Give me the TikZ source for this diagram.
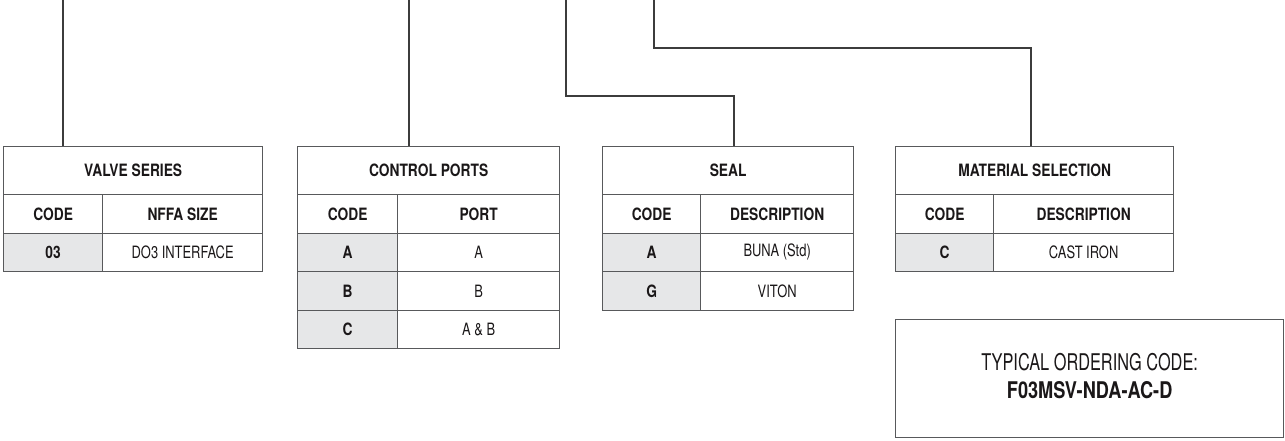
\documentclass[tikz,border=0pt]{standalone}
\usepackage{fontspec}
\setmainfont{TeX Gyre Heros}[UprightFeatures={FakeStretch=0.76},BoldFeatures={FakeStretch=0.81}]
\newfontfamily\ocfont{TeX Gyre Heros}[UprightFeatures={FakeStretch=0.71},BoldFeatures={FakeStretch=0.79}]
\definecolor{rule}{HTML}{58595B}
\definecolor{leader}{HTML}{3C3C3C}
\definecolor{codefill}{HTML}{E6E7E8}
\definecolor{ink}{HTML}{1A1718}
\begin{document}
\begin{tikzpicture}[x=1pt,y=-1pt,
  cellbase/.style={draw=rule,line width=1.3pt,anchor=north west,inner sep=0pt,
    minimum height=38.5pt,text=ink,font=\fontsize{17}{19}\selectfont},
  hdr/.style={cellbase,minimum height=48pt,font=\fontsize{17}{19}\selectfont\bfseries},
  colhdr/.style={cellbase,font=\fontsize{17}{19}\selectfont\bfseries},
  codecell/.style={cellbase,fill=codefill,font=\fontsize{17}{19}\selectfont\bfseries},
  valcell/.style={cellbase},
  leaderline/.style={draw=leader,line width=1.3pt}]
\useasboundingbox (0,0) rectangle (1285,440);

% VALVE SERIES table
\node[hdr,minimum width=259pt] (vs) at (3,146) {VALVE SERIES};
\node[colhdr,minimum width=99pt] (vsc) at (3,194) {CODE};
\node[colhdr,minimum width=160pt] (vsd) at (102,194) {NFFA SIZE};
\node[codecell,minimum width=99pt] (vs1c) at (3,232.5) {03};
\node[valcell,minimum width=160pt] (vs1d) at (102,232.5) {DO3 INTERFACE};

% CONTROL PORTS table
\node[hdr,minimum width=262pt] (cp) at (297,146) {CONTROL PORTS};
\node[colhdr,minimum width=100pt] (cpc) at (297,194) {CODE};
\node[colhdr,minimum width=162pt] (cpd) at (397,194) {PORT};
\node[codecell,minimum width=100pt] (cp1c) at (297,232.5) {A};
\node[valcell,minimum width=162pt] (cp1d) at (397,232.5) {A};
\node[codecell,minimum width=100pt] (cp2c) at (297,271) {B};
\node[valcell,minimum width=162pt] (cp2d) at (397,271) {B};
\node[codecell,minimum width=100pt] (cp3c) at (297,309.5) {C};
\node[valcell,minimum width=162pt] (cp3d) at (397,309.5) {A \& B};

% SEAL table
\node[hdr,minimum width=251pt] (sl) at (602,146) {SEAL};
\node[colhdr,minimum width=98pt] (slc) at (602,194) {CODE};
\node[colhdr,minimum width=153pt] (sld) at (700,194) {DESCRIPTION};
\node[codecell,minimum width=98pt] (sl1c) at (602,232.5) {A};
\node[valcell,minimum width=153pt] (sl1d) at (700,232.5) {BUNA (Std)};
\node[codecell,minimum width=98pt] (sl2c) at (602,271) {G};
\node[valcell,minimum width=153pt] (sl2d) at (700,271) {VITON};

% MATERIAL SELECTION table
\node[hdr,minimum width=278pt] (ms) at (895,146) {MATERIAL SELECTION};
\node[colhdr,minimum width=98pt] (msc) at (895,194) {CODE};
\node[colhdr,minimum width=180pt] (msd) at (993,194) {DESCRIPTION};
\node[codecell,minimum width=98pt] (ms1c) at (895,232.5) {C};
\node[valcell,minimum width=180pt] (ms1d) at (993,232.5) {CAST IRON};

% ordering code box
\node[draw=rule,line width=1.3pt,anchor=north west,minimum width=388pt,minimum height=118pt,
  inner sep=0pt] (oc) at (895,319) {};
\node[align=center,text=ink,inner sep=0pt,font=\ocfont\fontsize{23}{24}\selectfont] (octext)
  at ([yshift=3pt]oc.center) {TYPICAL ORDERING CODE:\\[4pt]\textbf{F03MSV-NDA-AC-D}};

% leader lines from the model code down to each table
\coordinate (t1) at (63,0);
\coordinate (t2) at (409,0);
\coordinate (t3) at (566,0);
\coordinate (t4) at (654,0);
\draw[leaderline] (t1) -- (vs.north -| t1);
\draw[leaderline] (t2) -- (cp.north -| t2);
\draw[leaderline] (t3) |- (734,96) -- (sl.north -| 734,0);
\draw[leaderline] (t4) |- (1031,48) -- (ms.north -| 1031,0);
\end{tikzpicture}
\end{document}
